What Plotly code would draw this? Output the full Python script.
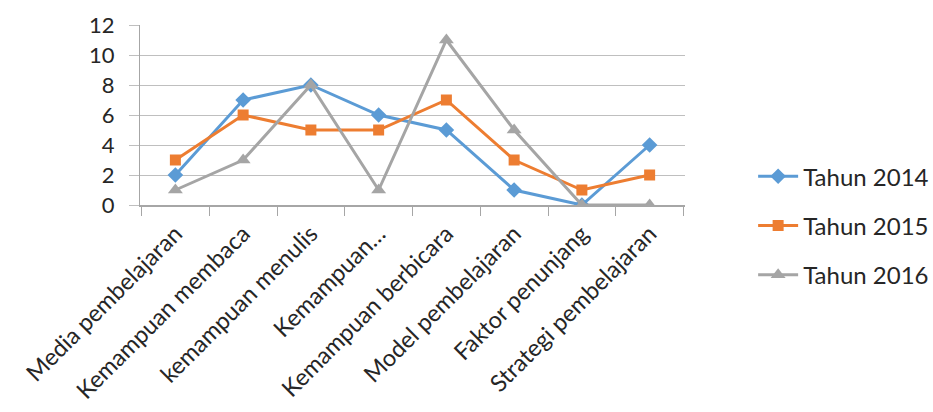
import plotly.graph_objects as go

categories = ["Media pembelajaran", "Kemampuan membaca", "kemampuan menulis",
              "Kemampuan…", "Kemampuan berbicara", "Model pembelajaran",
              "Faktor penunjang", "Strategi pembelajaran"]
tahun_2014 = [2, 7, 8, 6, 5, 1, 0, 4]
tahun_2015 = [3, 6, 5, 5, 7, 3, 1, 2]
tahun_2016 = [1, 3, 8, 1, 11, 5, 0, 0]
y_ticks = [0, 2, 4, 6, 8, 10, 12]

series = [
    ("Tahun 2014", tahun_2014, "#5B9BD5", "diamond", 12),
    ("Tahun 2015", tahun_2015, "#ED7D31", "square", 11),
    ("Tahun 2016", tahun_2016, "#A5A5A5", "triangle-up", 13),
]

fig = go.Figure()
for i, (name, vals, color, sym, size) in enumerate(series):
    fig.add_trace(go.Scatter(
        x=categories, y=vals, name=name, mode="lines+markers",
        line=dict(color=color, width=3),
        marker=dict(symbol=sym, size=size, color=color),
        legendgroup=f"g{i}",
    ))

font_family = "Lato, Open Sans, sans-serif"
fig.update_layout(
    width=933, height=412,
    margin=dict(l=140, r=248, t=25, b=207, autoexpand=False),
    paper_bgcolor="white", plot_bgcolor="white",
    font=dict(family=font_family, size=22, color="#262626"),
    showlegend=True,
    legend=dict(x=1.125, y=-0.115, xanchor="left", yanchor="middle",
                tracegroupgap=15, font=dict(size=24), itemwidth=40),
    xaxis=dict(type="category", showgrid=False, showline=True,
               linecolor="#A6A6A6", linewidth=1.5, automargin=False,
               ticks="outside", tickson="boundaries", ticklen=9,
               tickcolor="#A6A6A6", tickangle=-45, tickfont=dict(size=23.5),
               ticklabelstandoff=4),
    yaxis=dict(range=[0, 12], tickvals=y_ticks, showgrid=True,
               gridcolor="#BFBFBF", gridwidth=1, showline=True, automargin=False,
               linecolor="#A6A6A6", ticks="outside", ticklen=10,
               tickcolor="#BFBFBF", zeroline=False, tickfont=dict(size=22),
               ticklabelstandoff=10),
)

fig.write_html("out.html")
